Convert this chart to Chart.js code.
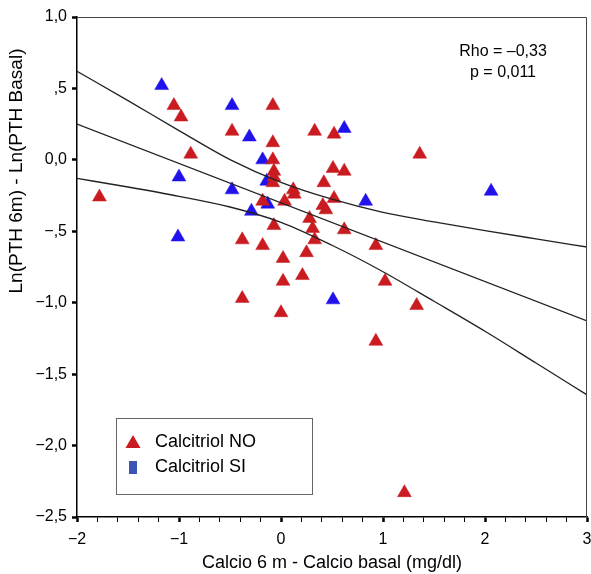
<!DOCTYPE html>
<html lang="es">
<head>
<meta charset="utf-8">
<title>Calcio vs PTH</title>
<script src="https://cdn.jsdelivr.net/npm/chart.js@4.4.1/dist/chart.umd.min.js"></script>
<style>
  html, body { margin: 0; padding: 0; background: #fff; }
  canvas { display: block; }
</style>
</head>
<body>
<canvas id="grafico" width="591" height="574"></canvas>
<script>
// Calcitriol NO (triángulos rojos)
const rojoX = [-1.78, -1.05, -0.98, -0.885, -0.48, -0.08, -0.08, -0.08, -0.07, -0.07, -0.08, 0.12, 0.13, 0.42,
    -0.18, 0.035, 0.41, 0.44, 0.28, 0.31, -0.07, -0.38, -0.18, 0.33, 0.25, 0.02, 0.21, 0.02, -0.38, 0.0,
    0.33, 0.52, 0.51, 0.62, 0.52, 0.62, 0.93, 1.02, 1.33, 0.93, 1.36, 1.21];
const rojoY = [-0.26, 0.38, 0.30, 0.04, 0.20, 0.38, 0.12, 0.0, -0.08, -0.12, -0.16, -0.21, -0.24, -0.16,
    -0.29, -0.29, -0.32, -0.35, -0.41, -0.48, -0.46, -0.56, -0.60, -0.56, -0.65, -0.69, -0.81, -0.85, -0.97, -1.07,
    0.20, 0.18, -0.06, -0.08, -0.27, -0.49, -0.60, -0.85, -1.02, -1.27, 0.04, -2.33];

// Calcitriol SI (triángulos azules)
const azulX = [-1.17, -0.48, -0.31, -0.18, -1.0, -0.14, -0.48, -0.13, -0.29, -1.01, 0.51, 0.62, 0.83, 2.06];
const azulY = [0.52, 0.38, 0.16, 0.0, -0.12, -0.15, -0.21, -0.31, -0.36, -0.54, -0.98, 0.22, -0.29, -0.22];

// recta de regresión e intervalo de confianza
const rectaX = [-2, 3];
const rectaY = [0.251, -1.127];
const bandaX = [-2, -1.5, -1, -0.5, 0, 0.5, 1, 1.5, 2, 2.5, 3];
const bandaSup = [0.62, 0.415, 0.205, 0.002, -0.157, -0.275, -0.367, -0.434, -0.495, -0.553, -0.61];
const bandaInf = [-0.13, -0.19, -0.255, -0.33, -0.437, -0.598, -0.783, -0.99, -1.2, -1.422, -1.645];

// ticks
const ticksX = [-2, -1, 0, 1, 2, 3];
const etiquetasX = ['\u22122', '\u22121', '0', '1', '2', '3'];
const ticksY = [1, 0.5, 0, -0.5, -1, -1.5, -2, -2.5];
const etiquetasY = ['1,0', ',5', '0,0', '\u2212,5', '\u22121,0', '\u22121,5', '\u22122,0', '\u22122,5'];

const tituloX = 'Calcio 6 m - Calcio basal (mg/dl)';
const tituloY = 'Ln(PTH 6m) - Ln(PTH Basal)';
const textoRho = ['Rho = \u20130,33', 'p = 0,011'];

const rojo = '#c91b20';
const azul = '#2112ec';
const azulLeyenda = '#3a55b4';
const fuente = "'Liberation Sans', Arial, sans-serif";

function pares(xs, ys) {
    return xs.map((x, i) => ({ x: x, y: ys[i] }));
}

function etiqueta(valores, textos) {
    return function (v) {
        const i = valores.findIndex(t => Math.abs(t - v) < 1e-6);
        return i >= 0 ? textos[i] : '';
    };
}

const extras = {
    id: 'extras',
    afterDraw(chart) {
        const ctx = chart.ctx;
        const a = chart.chartArea;
        ctx.save();

        // marco superior y derecho
        ctx.strokeStyle = '#444';
        ctx.lineWidth = 1;
        ctx.beginPath();
        ctx.moveTo(a.left, a.top + 0.5);
        ctx.lineTo(a.right - 0.5, a.top + 0.5);
        ctx.lineTo(a.right - 0.5, a.bottom);
        ctx.stroke();

        // titulo eje Y
        ctx.fillStyle = '#000';
        ctx.font = '19px ' + fuente;
        ctx.textAlign = 'center';
        ctx.textBaseline = 'middle';
        ctx.save();
        ctx.translate(17, a.top + 154);
        ctx.rotate(-Math.PI / 2);
        ctx.fillText(tituloY, 0, 0);
        ctx.restore();

        // Rho y p
        ctx.font = '16px ' + fuente;
        ctx.fillText(textoRho[0], a.left + 426, a.top + 35);
        ctx.fillText(textoRho[1], a.left + 426, a.top + 56);

        // leyenda
        const lx = a.left + 39, ly = a.top + 401;
        ctx.fillStyle = '#fff';
        ctx.fillRect(lx, ly, 196, 76);
        ctx.strokeStyle = '#666';
        ctx.strokeRect(lx + 0.5, ly + 0.5, 196, 76);

        ctx.fillStyle = rojo;
        ctx.beginPath();
        ctx.moveTo(lx + 17, ly + 17);
        ctx.lineTo(lx + 24.5, ly + 30);
        ctx.lineTo(lx + 9.5, ly + 30);
        ctx.closePath();
        ctx.fill();

        ctx.fillStyle = azulLeyenda;
        ctx.fillRect(lx + 13, ly + 43, 8, 13);

        ctx.fillStyle = '#000';
        ctx.font = '18px ' + fuente;
        ctx.textAlign = 'left';
        const ds = chart.data.datasets;
        ctx.fillText(ds[3].label, lx + 39, ly + 24);
        ctx.fillText(ds[4].label, lx + 39, ly + 49);

        ctx.restore();
    }
};

const ejeComun = {
    grid: {
        drawOnChartArea: false,
        drawTicks: true,
        tickLength: 5,
        tickColor: '#000',
        color: '#000'
    },
    border: { display: true, color: '#000', width: 1.5 }
};

new Chart(document.getElementById('grafico'), {
    type: 'scatter',
    data: {
        datasets: [
            {
                label: 'recta',
                data: pares(rectaX, rectaY),
                showLine: true,
                borderColor: '#222',
                borderWidth: 1.3,
                pointRadius: 0
            },
            {
                label: 'IC superior',
                data: pares(bandaX, bandaSup),
                showLine: true,
                cubicInterpolationMode: 'monotone',
                borderColor: '#222',
                borderWidth: 1.3,
                pointRadius: 0
            },
            {
                label: 'IC inferior',
                data: pares(bandaX, bandaInf),
                showLine: true,
                cubicInterpolationMode: 'monotone',
                borderColor: '#222',
                borderWidth: 1.3,
                pointRadius: 0
            },
            {
                label: 'Calcitriol NO',
                data: pares(rojoX, rojoY),
                pointStyle: 'triangle',
                pointRadius: 8,
                backgroundColor: rojo,
                borderColor: rojo,
                borderWidth: 0.5
            },
            {
                label: 'Calcitriol SI',
                data: pares(azulX, azulY),
                pointStyle: 'triangle',
                pointRadius: 8,
                backgroundColor: azul,
                borderColor: azul,
                borderWidth: 0.5
            }
        ]
    },
    options: {
        responsive: false,
        animation: false,
        devicePixelRatio: 1,
        layout: { autoPadding: false, padding: { top: 17, right: 4, left: 0, bottom: 0 } },
        plugins: {
            legend: { display: false },
            tooltip: { enabled: false }
        },
        scales: {
            x: {
                ...ejeComun,
                type: 'linear',
                min: -2,
                max: 3,
                grid: {
                    ...ejeComun.grid,
                    tickWidth: ctx => (ctx.tick && Math.abs(ctx.tick.value - Math.round(ctx.tick.value)) < 1e-6) ? 2.5 : 1
                },
                ticks: {
                    stepSize: 0.2,
                    autoSkip: false,
                    maxRotation: 0,
                    padding: 8,
                    color: '#000',
                    font: { family: fuente, size: 16 },
                    callback: etiqueta(ticksX, etiquetasX)
                },
                title: {
                    display: true,
                    text: tituloX,
                    color: '#000',
                    font: { family: fuente, size: 18, lineHeight: 1.2 },
                    padding: { top: 0, bottom: 0 }
                },
                afterFit(scale) {
                    scale.height = 57;
                    scale.paddingLeft = 0;
                    scale.paddingRight = 0;
                }
            },
            y: {
                ...ejeComun,
                type: 'linear',
                min: -2.5,
                max: 1,
                grid: { ...ejeComun.grid, tickWidth: 2.5 },
                ticks: {
                    stepSize: 0.5,
                    padding: 5,
                    color: '#000',
                    font: { family: fuente, size: 16 },
                    callback: etiqueta(ticksY, etiquetasY)
                },
                afterFit(scale) {
                    scale.width = 77;
                    scale.paddingTop = 0;
                    scale.paddingBottom = 0;
                }
            }
        }
    },
    plugins: [extras]
});
</script>
</body>
</html>
